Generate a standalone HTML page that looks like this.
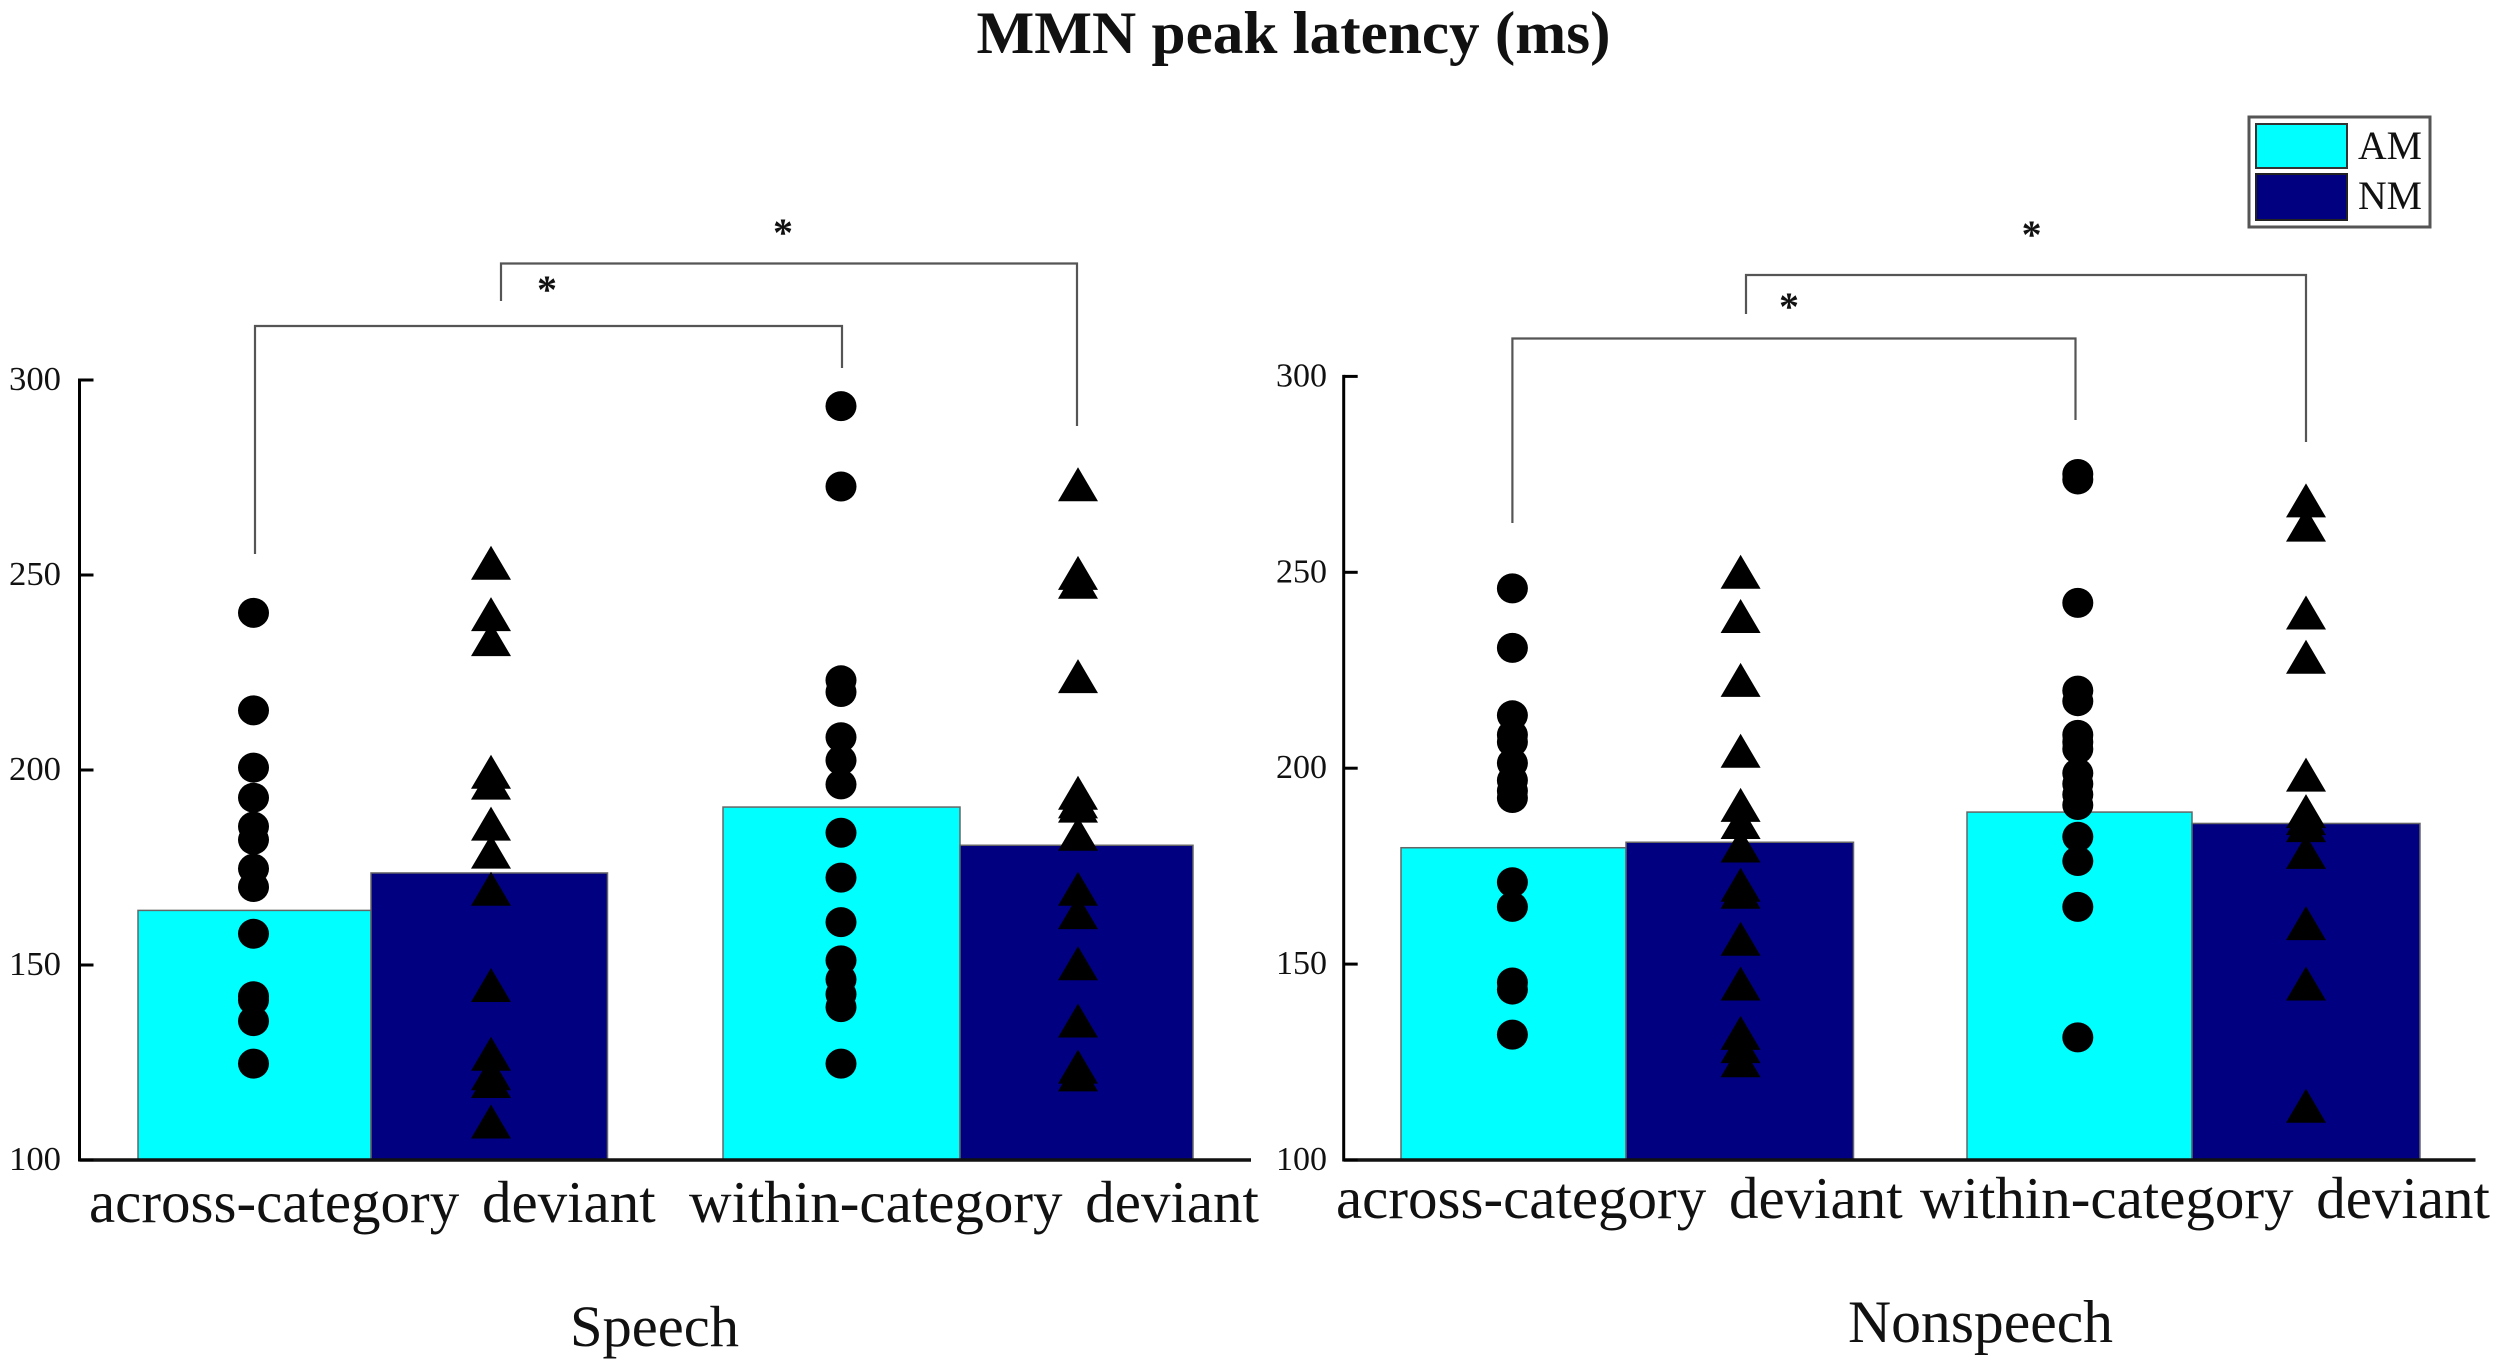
<!DOCTYPE html>
<html lang="en">
<head>
<meta charset="utf-8">
<title>MMN peak latency (ms)</title>
<style>
html,body{margin:0;padding:0;background:#fff;}
svg{display:block;}
text{font-family:"Liberation Serif",serif;fill:#111;}
</style>
</head>
<body>
<svg id="chart" xmlns="http://www.w3.org/2000/svg" width="2500" height="1369" viewBox="0 0 2500 1369">
  <rect x="0" y="0" width="2500" height="1369" fill="#fff"/>
  <text x="976.5" y="53" font-size="60" font-weight="bold" textLength="634" lengthAdjust="spacingAndGlyphs">MMN peak latency (ms)</text>
  <text x="570" y="1346" font-size="58" textLength="169" lengthAdjust="spacingAndGlyphs">Speech</text>
  <text x="1848" y="1342" font-size="60" textLength="265" lengthAdjust="spacingAndGlyphs">Nonspeech</text>
  <g>
    <rect x="2249" y="117" width="181" height="110" fill="#fff" stroke="#555" stroke-width="3"/>
    <rect x="2256" y="124" width="91" height="44" fill="#00ffff" stroke="#333" stroke-width="2"/>
    <rect x="2256" y="174" width="91" height="46" fill="#000080" stroke="#222" stroke-width="2"/>
    <text x="2358" y="159" font-size="40" textLength="64" lengthAdjust="spacingAndGlyphs">AM</text>
    <text x="2358" y="209" font-size="40" textLength="64" lengthAdjust="spacingAndGlyphs">NM</text>
  </g>
  <g id="speech-panel"></g>
  <g id="nonspeech-panel"></g>
</svg>
<script>
const yTicks = [100, 150, 200, 250, 300];
const categories = ["across-category deviant", "within-category deviant"];

const speechBarsAM = [164, 190.5];
const speechBarsNM = [173.6, 180.7];
const speechAcrossAM = [240.3, 215.3, 200.6, 192.9, 185.5, 182.1, 174.7, 170, 158, 142, 141, 135.6, 124.7];
const speechAcrossNM = [252.9, 239.7, 233.3, 199.3, 196.5, 186, 178.8, 169.3, 144.6, 127, 122, 120, 109.6];
const speechWithinAM = [293.3, 272.7, 223, 220, 208.4, 202.5, 196.3, 183.9, 172.4, 161, 151.2, 146.3, 142.5, 139.2, 124.7];
const speechWithinNM = [273, 250.3, 248, 223.8, 193.9, 191.7, 190.6, 183.4, 169.3, 163.3, 150.2, 135.5, 123.7, 121.7];

const nonspeechBarsAM = [179.7, 188.8];
const nonspeechBarsNM = [181.1, 185.9];
const nonspeechAcrossAM = [245.9, 230.7, 213.5, 208.5, 206.7, 201.3, 196.9, 194.2, 192.4, 170.9, 164.6, 145.3, 143.5, 132];
const nonspeechAcrossNM = [249.9, 238.6, 222.3, 204.2, 190.4, 186, 180, 170, 168.2, 156.2, 144.8, 132.2, 128.8, 125.2];
const nonspeechWithinAM = [275.1, 273.7, 242.2, 219.8, 217.1, 208.5, 206.7, 204.9, 198.7, 196, 193.3, 190.6, 182.5, 176.3, 164.6, 131.3];
const nonspeechWithinNM = [268.1, 261.9, 239.5, 228.2, 198.1, 188.8, 187, 185.2, 178.4, 160.2, 144.8, 113.6];

const NS = "http://www.w3.org/2000/svg";
const COLOR_AM = "#00ffff";
const COLOR_NM = "#000080";

function mk(parent, tag, attrs) {
  const el = document.createElementNS(NS, tag);
  for (const k in attrs) el.setAttribute(k, attrs[k]);
  parent.appendChild(el);
  return el;
}

function drawPanel(cfg) {
  const g = document.getElementById(cfg.id);
  const yScale = v => cfg.y100 - (v - 100) * cfg.pxPerUnit;

  cfg.groups.forEach((grp, i) => {
    const a = mk(g, "rect", {x: grp.amL, y: yScale(cfg.barsAM[i]), width: grp.amR - grp.amL, height: yScale(100) - yScale(cfg.barsAM[i]), fill: COLOR_AM, stroke: "#666", "stroke-width": 1.5});
    
    
    const n = mk(g, "rect", {x: grp.amR, y: yScale(cfg.barsNM[i]), width: grp.nmR - grp.amR, height: yScale(100) - yScale(cfg.barsNM[i]), fill: COLOR_NM, stroke: "#666", "stroke-width": 1.5});
    
    
  });

  cfg.groups.forEach((grp, i) => {
    grp.am.forEach(v => {
      const c = mk(g, "ellipse", {cx: grp.amX, cy: yScale(v), rx: 15.5, ry: 15, fill: "#000"});
      
      
    });
    grp.nm.forEach(v => {
      const y = yScale(v);
      const t = mk(g, "polygon", {points: `${grp.nmX},${y - 18} ${grp.nmX + 20},${y + 16} ${grp.nmX - 20},${y + 16}`, fill: "#000"});
      
      
    });
  });

  const yAxis = mk(g, "line", {x1: cfg.axisX, x2: cfg.axisX, y1: yScale(300) - 1.5, y2: yScale(100) + 1.5, stroke: "#000", "stroke-width": 3});
  
  
  const xAxis = mk(g, "line", {x1: cfg.axisX, x2: cfg.axisEnd, y1: yScale(100), y2: yScale(100), stroke: "#111", "stroke-width": 3.5});
  
  

  yTicks.forEach(v => {
    const tick = mk(g, "line", {x1: cfg.axisX, x2: cfg.axisX + 14, y1: yScale(v), y2: yScale(v), stroke: "#000", "stroke-width": 3});
    
    
    const label = mk(g, "text", {x: cfg.tickLabelX, y: yScale(v) + 10, "font-size": 34, textLength: cfg.tickLabelW, lengthAdjust: "spacingAndGlyphs"});
    label.textContent = v;
    
    
  });

  cfg.groups.forEach((grp, i) => {
    const label = mk(g, "text", {x: grp.labelX, y: cfg.labelY, "font-size": 59, "word-spacing": 8});
    label.textContent = categories[i];
    
    
  });

  cfg.brackets.forEach(b => {
    const p = mk(g, "polyline", {points: `${b.x1},${b.y1} ${b.x1},${b.top} ${b.x2},${b.top} ${b.x2},${b.y2}`, fill: "none", stroke: "#555", "stroke-width": 2.2});
    
    
    const s = mk(g, "text", {x: b.sx, y: b.sy + 17, "font-size": 40, "font-weight": "bold", "text-anchor": "middle"});
    s.textContent = "*";
    
    
  });
}

drawPanel({
  id: "speech-panel", axisX: 79.5, axisEnd: 1251, y100: 1160, pxPerUnit: 3.9,
  tickLabelX: 9, tickLabelW: 52, labelY: 1222,
  barsAM: speechBarsAM, barsNM: speechBarsNM,
  groups: [
    {amL: 138, amR: 371, nmR: 607.5, amX: 253.5, nmX: 491, am: speechAcrossAM, nm: speechAcrossNM, labelX: 89},
    {amL: 723, amR: 960, nmR: 1193, amX: 841, nmX: 1078, am: speechWithinAM, nm: speechWithinNM, labelX: 689}
  ],
  brackets: [
    {x1: 255, y1: 554, top: 326, x2: 842, y2: 368, sx: 547, sy: 286},
    {x1: 501, y1: 301, top: 263.5, x2: 1077, y2: 426, sx: 783, sy: 229}
  ]
});

drawPanel({
  id: "nonspeech-panel", axisX: 1343.7, axisEnd: 2475.5, y100: 1160, pxPerUnit: 3.918,
  tickLabelX: 1276, tickLabelW: 51, labelY: 1218,
  barsAM: nonspeechBarsAM, barsNM: nonspeechBarsNM,
  groups: [
    {amL: 1401, amR: 1626, nmR: 1853.5, amX: 1512.4, nmX: 1740.6, am: nonspeechAcrossAM, nm: nonspeechAcrossNM, labelX: 1336},
    {amL: 1967, amR: 2192, nmR: 2420, amX: 2077.8, nmX: 2306, am: nonspeechWithinAM, nm: nonspeechWithinNM, labelX: 1920}
  ],
  brackets: [
    {x1: 1512.4, y1: 523, top: 338.5, x2: 2075.5, y2: 420, sx: 1789, sy: 303},
    {x1: 1746, y1: 314, top: 275, x2: 2306, y2: 442, sx: 2031.6, sy: 231}
  ]
});
</script>
</body>
</html>
